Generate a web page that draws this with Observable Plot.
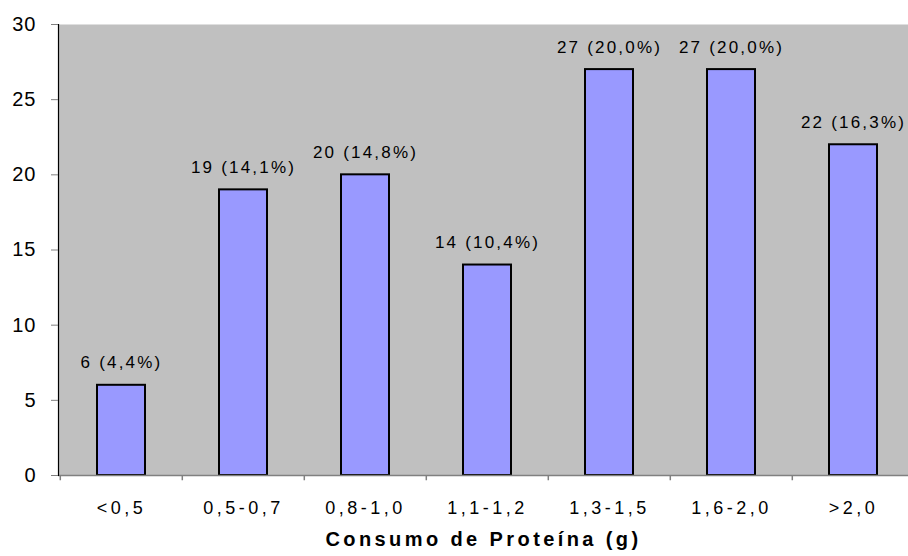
<!DOCTYPE html>
<html>
<head>
<meta charset="utf-8">
<script src="https://cdn.jsdelivr.net/npm/d3@7"></script>
<script src="https://cdn.jsdelivr.net/npm/@observablehq/plot@0.6"></script>
<style>
  html, body { margin: 0; padding: 0; background: #ffffff; }
  #chart svg { display: block; }
</style>
</head>
<body>
<div id="chart"></div>
<script>
const categories = ["<0,5", "0,5-0,7", "0,8-1,0", "1,1-1,2", "1,3-1,5", "1,6-2,0", ">2,0"];
const counts = [6, 19, 20, 14, 27, 27, 22];
const percents = ["4,4%", "14,1%", "14,8%", "10,4%", "20,0%", "20,0%", "16,3%"];
const yTicks = [0, 5, 10, 15, 20, 25, 30];
const xTitle = "Consumo de Proteína (g)";

const data = categories.map((c, i) => ({cat: c, n: counts[i], label: `${counts[i]} (${percents[i]})`}));

const W = 908, H = 556;
const mL = 58, mT = 24, mB = 81;

const chart = Plot.plot({
  width: W,
  height: H,
  marginLeft: mL,
  marginRight: 0,
  marginTop: mT,
  marginBottom: mB,
  style: {fontFamily: "'Liberation Sans', Arial, sans-serif", fontSize: "17px", color: "black", background: "white"},
  x: {type: "band", domain: categories, range: [mL, mL + 7 * 122.4], paddingInner: 0.61, paddingOuter: 0.305, label: null},
  y: {domain: [0, 30], label: null},
  marks: [
    Plot.frame({fill: "#C0C0C0", stroke: "none"}),
    Plot.barY(data, {x: "cat", y: "n", fill: "#9999FF", stroke: "black", strokeWidth: 2}),
    Plot.text(data, {x: "cat", y: "n", text: "label", lineAnchor: "bottom", dy: -17, fontSize: 17, fill: "black"}),
    Plot.ruleY([0], {stroke: "#808080", strokeWidth: 1.5}),
    Plot.frame({anchor: "left", stroke: "black", strokeWidth: 1.2}),
    Plot.ruleX(categories, {x: d => d, dx: -61.2, y1: 0, y2: -0.35, stroke: "#808080", strokeWidth: 1.5}),
    Plot.axisY({ticks: yTicks, tickSize: 7, tickPadding: 15, stroke: "#808080", fill: "black", fontSize: 20, label: null}),
    Plot.axisX({tickSize: 0, tickPadding: 26, fill: "black", fontSize: 18, label: null}),
    Plot.text([xTitle], {frameAnchor: "bottom", dy: 70, fontWeight: "bold", fontSize: 20, fill: "black"})
  ]
});
const barLabelSet = new Set(data.map(d => d.label));
const yTickSet = new Set(yTicks.map(String));
const catSet = new Set(categories);
d3.select(chart).selectAll("text").each(function() {
  const t = this.textContent;
  let ls = null;
  if (barLabelSet.has(t)) ls = "2.2px";
  else if (yTickSet.has(t)) ls = "1px";
  else if (catSet.has(t)) ls = "3.5px";
  else if (t === xTitle) ls = "3.4px";
  if (ls) this.style.letterSpacing = ls;
});
document.getElementById("chart").appendChild(chart);
</script>
</body>
</html>
